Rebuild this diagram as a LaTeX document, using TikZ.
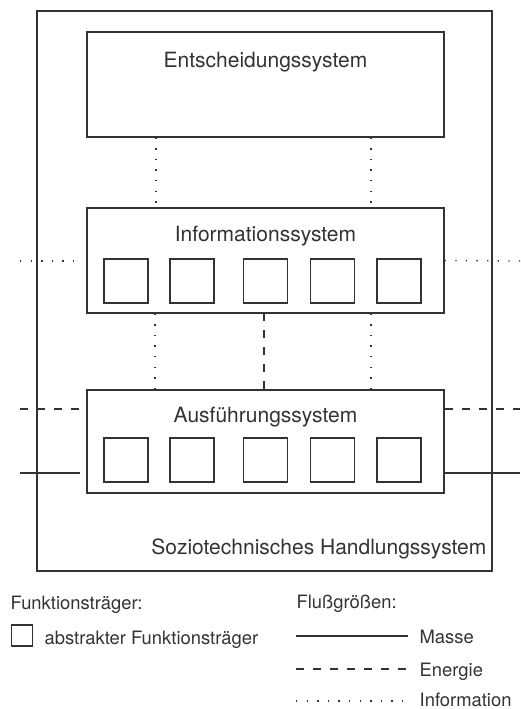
\documentclass[tikz,border=0pt]{standalone}
\usepackage{fontspec}
\setmainfont{TeX Gyre Heros}
\usepackage{tikz}
\usetikzlibrary{positioning}

\begin{document}
\begin{tikzpicture}[
            x=1pt, y=-1pt,
            line width=1.3pt, color=black!80,
            block/.style={rectangle, draw, minimum width=357pt, minimum height=105pt, inner sep=0pt},
            unit/.style={rectangle, draw, minimum size=44pt, inner sep=0pt},
            title/.style={anchor=base, inner sep=0pt, font=\fontsize{21}{25}\selectfont},
            key/.style={anchor=base west, inner sep=0pt, font=\fontsize{18.4}{22}\selectfont},
            masse/.style={solid},
            energie/.style={dash pattern=on 8pt off 9pt},
            information/.style={dash pattern=on 1.3pt off 9.3pt}
        ]
        \useasboundingbox (0,0) rectangle (520,709);

        % Blocks
        \node[rectangle, draw, minimum width=455pt, minimum height=560pt] (soz) at (264.5,291) {};
        \node[block] (entsch) at (265.5,84.5) {};
        \node[block] (info) at (265.5,260.5) {};
        \node[block, minimum height=103pt] (ausf) at (265.5,441.5) {};

        \node[title] (entschlabel) at (265.5,67) {Entscheidungssystem};
        \node[title] (infolabel) at (265.5,241) {Informationssystem};
        \node[title] (ausflabel) at (265.5,422) {Ausführungssystem};
        \node[title, anchor=base east] (sozlabel) at (487,554) {Soziotechnisches Handlungssystem};

        % Funktionstraeger
        \node[unit] (i1) at (126,281) {};
        \node[unit] (i2) at (192,281) {};
        \node[unit] (i3) at (265.5,281) {};
        \node[unit] (i4) at (332.5,281) {};
        \node[unit] (i5) at (399,281) {};

        \node[unit] (a1) at (126,460) {};
        \node[unit] (a2) at (192,460) {};
        \node[unit] (a3) at (265.5,460) {};
        \node[unit] (a4) at (332.5,460) {};
        \node[unit] (a5) at (399,460) {};

        % Flows between the systems
        \draw[information] ([xshift=-109.5pt]entsch.south) -- ([xshift=-109.5pt]info.north);
        \draw[information] ([xshift=105.5pt]entsch.south) -- ([xshift=105.5pt]info.north);
        \draw[information] ([xshift=-110.5pt]info.south) -- ([xshift=-110.5pt]ausf.north);
        \draw[information] ([xshift=105.5pt]info.south) -- ([xshift=105.5pt]ausf.north);
        \draw[energie] ([xshift=-1.5pt]ausf.north) -- ([xshift=-1.5pt]info.south);

        % Flows across the border
        \coordinate (infoin) at (20,261);
        \coordinate (infoinend) at (74,261);
        \coordinate (infoout) at (520,261);
        \draw[information] (infoin) -- (infoinend);
        \draw[information] (info.east) -- (infoout);

        \coordinate (energiein) at (20,409);
        \coordinate (energieinend) at (80,409);
        \coordinate (energieout) at (520,409);
        \draw[energie] (energiein) -- (energieinend);
        \draw[energie] ([yshift=32.5pt]ausf.east) -- (energieout);

        \coordinate (massein) at (20,473);
        \coordinate (masseinend) at (80,473);
        \coordinate (masseout) at (520,473);
        \draw[masse] (massein) -- (masseinend);
        \draw[masse] ([yshift=-31.5pt]ausf.east) -- (masseout);

        % Legend
        \node[key] (ftlabel) at (10,609) {Funktionsträger:};
        \node[rectangle, draw, minimum size=21pt, inner sep=0pt] (ftkey) at (22,635.5) {};
        \node[key] (ftkeylabel) at (44,644) {abstrakter Funktionsträger};

        \node[key] (fglabel) at (296,608) {Flußgrößen:};
        \node[key] (massekey) at (419,643) {Masse};
        \node[key] (energiekey) at (419,676) {Energie};
        \node[key] (infokey) at (419,706) {Information};

        \coordinate (massekeyL) at (296,636);
        \coordinate (massekeyR) at (408,636);
        \coordinate (energiekeyL) at (296,669);
        \coordinate (energiekeyR) at (408,669);
        \coordinate (infokeyL) at (296,701);
        \coordinate (infokeyR) at (408,701);
        \draw[masse] (massekeyL) -- (massekeyR);
        \draw[energie] (energiekeyL) -- (energiekeyR);
        \draw[information] (infokeyL) -- (infokeyR);

    \end{tikzpicture}
\end{document}
